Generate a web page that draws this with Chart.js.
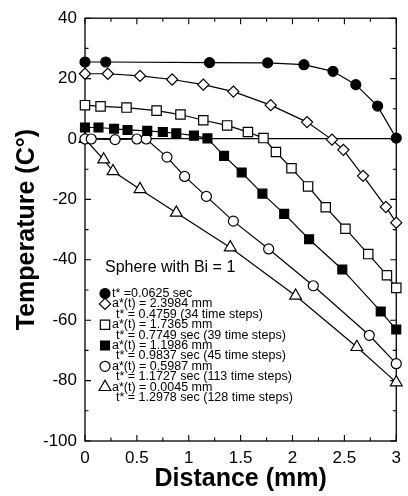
<!DOCTYPE html>
<html>
<head>
<meta charset="utf-8">
<script src="https://cdn.jsdelivr.net/npm/chart.js@4/dist/chart.umd.min.js"></script>
<style>
  html, body { margin: 0; padding: 0; background: #fff; }
  #wrap { width: 408px; height: 496px; }
</style>
</head>
<body>
<div id="wrap"><canvas id="chart" width="408" height="496"></canvas></div>
<script>
(function () {
  'use strict';

  // -------- dados --------
  const xTickLabels = ['0', '0.5', '1', '1.5', '2', '2.5', '3'];
  const yTickLabels = ['-100', '-80', '-60', '-40', '-20', '0', '20', '40'];

  // t* = 0.0625 sec
  const dist1 = [0, 0.2, 1.2, 1.76, 2.11, 2.39, 2.61, 2.82, 3.0];
  const temp1 = [25.5, 25.5, 25.3, 25.2, 24.6, 22.4, 18.0, 10.9, 0.3];
  // a*(t) = 2.3984 mm
  const dist2 = [0, 0.22, 0.53, 0.84, 1.14, 1.43, 1.79, 2.14, 2.38, 2.49, 2.68, 2.90, 3.0];
  const temp2 = [21.6, 21.6, 20.9, 19.7, 18.0, 15.7, 11.2, 5.6, -0.2, -3.6, -12.2, -22.5, -27.7];
  // a*(t) = 1.7365 mm
  const dist3 = [0, 0.15, 0.40, 0.69, 0.92, 1.14, 1.37, 1.57, 1.72, 1.84, 1.99, 2.15, 2.32, 2.51, 2.73, 2.91, 3.0];
  const temp3 = [11.2, 10.8, 10.4, 9.4, 8.1, 6.2, 4.5, 2.3, 0.3, -4.3, -9.7, -15.7, -22.6, -29.7, -38.1, -45.1, -49.3];
  // a*(t) = 1.1986 mm
  const dist4 = [0, 0.13, 0.28, 0.41, 0.60, 0.75, 0.88, 1.05, 1.18, 1.34, 1.51, 1.71, 1.92, 2.16, 2.48, 2.85, 3.0];
  const temp4 = [3.8, 3.8, 3.4, 3.0, 2.7, 2.3, 1.9, 1.1, 0.2, -5.6, -11.1, -18.1, -24.8, -33.2, -43.2, -57.1, -63.1];
  // a*(t) = 0.5987 mm
  const dist5 = [0, 0.06, 0.29, 0.50, 0.59, 0.79, 0.96, 1.17, 1.43, 1.77, 2.20, 2.74, 3.0];
  const temp5 = [0, 0, -0.2, 0, 0, -6.0, -12.4, -19.0, -27.2, -36.4, -48.6, -65.0, -74.4];
  // a*(t) = 0.0045 mm
  const dist6 = [0, 0.18, 0.27, 0.53, 0.88, 1.40, 2.03, 2.62, 3.0];
  const temp6 = [0, -6.8, -10.7, -16.6, -24.4, -35.9, -51.9, -68.9, -80.6];

  const legendTitle = 'Sphere with Bi = 1';
  const legendLines = [
    't* =0.0625 sec',
    'a*(t) = 2.3984 mm',
    't* = 0.4759 (34 time steps)',
    'a*(t) = 1.7365 mm',
    't* = 0.7749 sec (39 time steps)',
    'a*(t) = 1.1986 mm',
    't* = 0.9837 sec (45 time steps)',
    'a*(t) = 0.5987 mm',
    't* = 1.1727 sec (113 time steps)',
    'a*(t) = 0.0045 mm',
    't* = 1.2978 sec (128 time steps)'
  ];

  // estilo de cada serie (marcador)
  const styles = [
    { pointStyle: 'circle', radius: 5, fill: '#000', line: 0 },
    { pointStyle: 'rectRot', radius: 5.6, fill: '#fff', line: 1 },
    { pointStyle: 'rect', radius: 6.6, fill: '#fff', line: 3 },
    { pointStyle: 'rect', radius: 6.3, fill: '#000', line: 5 },
    { pointStyle: 'circle', radius: 5, fill: '#fff', line: 7 },
    { pointStyle: 'triangle', radius: 6.8, fill: '#fff', line: 9 }
  ];

  const series = [
    [dist1, temp1], [dist2, temp2], [dist3, temp3],
    [dist4, temp4], [dist5, temp5], [dist6, temp6]
  ];

  const FONT = "'Liberation Sans', Arial, Helvetica, sans-serif";

  const datasets = series.map(([xs, ys], i) => ({
    label: legendLines[styles[i].line],
    data: xs.map((x, k) => ({ x, y: ys[k] })),
    showLine: true,
    borderColor: '#000',
    borderWidth: 1.2,
    pointStyle: styles[i].pointStyle,
    pointRadius: styles[i].radius,
    pointBackgroundColor: styles[i].fill,
    pointBorderColor: '#000',
    pointBorderWidth: 1.2,
    clip: false
  }));

  // moldura + ticks para dentro
  const frameTicks = {
    id: 'frameTicks',
    beforeDatasetsDraw(chart) {
      const { ctx, chartArea: a, scales: { x, y } } = chart;
      ctx.save();
      ctx.strokeStyle = '#000';
      ctx.lineWidth = 1.3;
      ctx.strokeRect(a.left, a.top, a.right - a.left, a.bottom - a.top);
      ctx.lineWidth = 1.1;
      ctx.beginPath();
      for (let v = y.min; v <= y.max + 1e-9; v += 10) {
        const py = y.getPixelForValue(v);
        const len = v % 20 === 0 ? 6 : 3.5;
        ctx.moveTo(a.left, py); ctx.lineTo(a.left + len, py);
        ctx.moveTo(a.right, py); ctx.lineTo(a.right - len, py);
      }
      for (let v = x.min; v <= x.max + 1e-9; v += 0.25) {
        const px = x.getPixelForValue(v);
        const len = Math.abs(v * 2 - Math.round(v * 2)) < 1e-6 ? 6 : 3.5;
        ctx.moveTo(px, a.bottom); ctx.lineTo(px, a.bottom - len);
        ctx.moveTo(px, a.top); ctx.lineTo(px, a.top + len);
      }
      ctx.stroke();
      ctx.restore();
    }
  };

  // legenda desenhada dentro do grafico
  const innerLegend = {
    id: 'innerLegend',
    afterDraw(chart) {
      const { ctx } = chart;
      const h = Chart.helpers;
      ctx.save();
      ctx.fillStyle = '#000';
      ctx.textBaseline = 'middle';
      ctx.textAlign = 'left';
      ctx.font = '16px ' + FONT;
      ctx.fillText(legendTitle, 105, 268);

      ctx.font = '12.5px ' + FONT;
      legendLines.forEach((txt, i) => {
        const yy = 293.5 + i * 10.4;
        const st = styles.find(s => s.line === i);
        const tx = txt.startsWith('t*') && i > 0 ? 116 : 112;
        ctx.fillStyle = '#000';
        ctx.fillText(txt, tx, yy);
        if (st) {
          ctx.fillStyle = st.fill;
          ctx.strokeStyle = '#000';
          ctx.lineWidth = 1.2;
          h.drawPoint(ctx, { pointStyle: st.pointStyle, radius: st.radius, rotation: 0, borderWidth: 1.2 }, 105, yy);
        }
      });
      ctx.restore();
    }
  };

  new Chart(document.getElementById('chart').getContext('2d'), {
    type: 'scatter',
    data: { datasets },
    options: {
      responsive: false,
      animation: false,
      devicePixelRatio: 1,
      layout: { padding: { top: 12, right: 8, left: 0, bottom: 0 } },
      plugins: {
        legend: { display: false },
        tooltip: { enabled: false }
      },
      scales: {
        x: {
          type: 'linear',
          min: 0, max: 3,
          afterFit: s => { s.height = 55; },
          grid: { display: false, drawTicks: false },
          border: { display: false },
          ticks: {
            stepSize: 0.5,
            padding: 7,
            color: '#000',
            font: { family: FONT, size: 17 },
            callback: (v, i) => xTickLabels[i]
          },
          title: {
            display: true,
            text: 'Distance (mm)',
            color: '#000',
            font: { family: FONT, size: 25, weight: 'bold' },
            padding: { top: 0, bottom: 1.5 }
          }
        },
        y: {
          type: 'linear',
          min: -100, max: 40,
          afterFit: s => { s.width = 85; },
          grid: {
            drawTicks: false,
            lineWidth: 1.3,
            color: c => (c.tick && c.tick.value === 0 ? '#000' : 'rgba(0,0,0,0)')
          },
          border: { display: false },
          ticks: {
            stepSize: 20,
            padding: 8,
            color: '#000',
            font: { family: FONT, size: 17 },
            callback: (v, i) => yTickLabels[i]
          },
          title: {
            display: true,
            text: 'Temperature (C°)',
            color: '#000',
            font: { family: FONT, size: 25, weight: 'bold' },
            padding: { top: 12, bottom: 0 }
          }
        }
      }
    },
    plugins: [frameTicks, innerLegend]
  });
})();
</script>
</body>
</html>
